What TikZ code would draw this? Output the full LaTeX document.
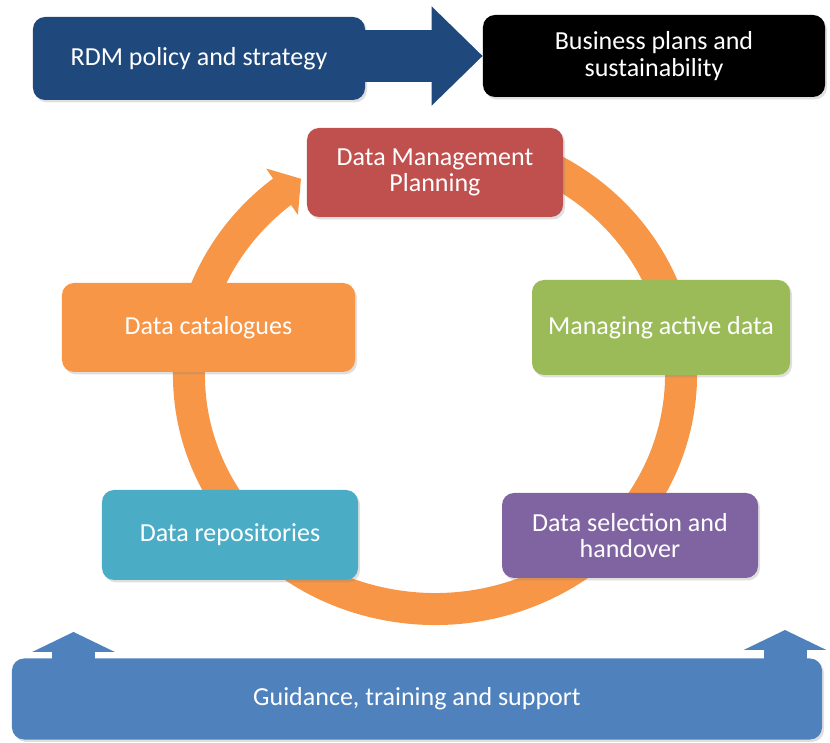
\documentclass[tikz,border=0pt]{standalone}
\usepackage{fontspec}
\setmainfont{Carlito}
\usepackage{tikz}
\usetikzlibrary{arrows.meta,bending,shadows}
\definecolor{rdmblue}{HTML}{1F497D}
\definecolor{planred}{HTML}{C0504D}
\definecolor{activegreen}{HTML}{9BBB59}
\definecolor{cycleorange}{HTML}{F79646}
\definecolor{repoteal}{HTML}{4BACC6}
\definecolor{handpurple}{HTML}{8064A2}
\definecolor{guideblue}{HTML}{4F81BD}

\begin{document}
\begin{tikzpicture}[x=0.25mm, y=-0.25mm,
  stage/.style={rounded corners=3mm, text=white, align=center, inner sep=0pt,
                font=\fontsize{18.5}{19}\selectfont,
                drop shadow={opacity=0.25, shadow xshift=0.5mm, shadow yshift=-0.6mm}},
  cycle/.style={draw=cycleorange, line width=8mm,
                -{Triangle[length=5.75mm, width=13.75mm]}},
  bigarr/.style={draw=rdmblue, line width=13mm,
                 -{Triangle[length=12.75mm, width=24mm]}},
  uparr/.style={draw=guideblue, line width=10.75mm,
                -{Triangle[length=5mm, width=20.5mm]}},
  ]
  \useasboundingbox (0,0) rectangle (830,743);
  \coordinate (hub) at (435,375);
  \draw[cycle] ([shift={(80:61.5mm and 58.5mm)}]hub)
    arc[start angle=80, end angle=-237, x radius=61.5mm, y radius=58.5mm];

  \node[stage, fill=rdmblue, minimum width=83mm, minimum height=20.75mm] (rdm) at (199,58.5) {RDM policy and strategy};
  \node[stage, fill=black, minimum width=85.5mm, minimum height=20.5mm] (biz) at (654,56) {Business plans and\\sustainability};
  \draw[bigarr] (rdm.east |- biz.west) -- (biz.west);

  \node[stage, fill=planred, minimum width=64mm, minimum height=22.25mm] (plan) at (435,172.5) {Data Management\\Planning};
  \node[stage, fill=activegreen, minimum width=64.5mm, minimum height=23.75mm] (active) at (661,327.5) {Managing active data};
  \node[stage, fill=cycleorange, minimum width=73.25mm, minimum height=22.25mm] (catalog) at (208.5,327.5) {Data catalogues};
  \node[stage, fill=repoteal, minimum width=64mm, minimum height=22.5mm] (repo) at (230,535) {Data repositories};
  \node[stage, fill=handpurple, minimum width=64mm, minimum height=21.25mm] (handover) at (630,535.5) {Data selection and\\handover};

  \node[stage, fill=guideblue, minimum width=202.5mm, minimum height=20.25mm] (guide) at (417,699) {Guidance, training and support};
  \coordinate (lefttip) at (73.5,632);
  \coordinate (righttip) at (785,630);
  \draw[uparr] (lefttip |- guide.center) -- (lefttip);
  \draw[uparr] (righttip |- guide.center) -- (righttip);
\end{tikzpicture}
\end{document}
